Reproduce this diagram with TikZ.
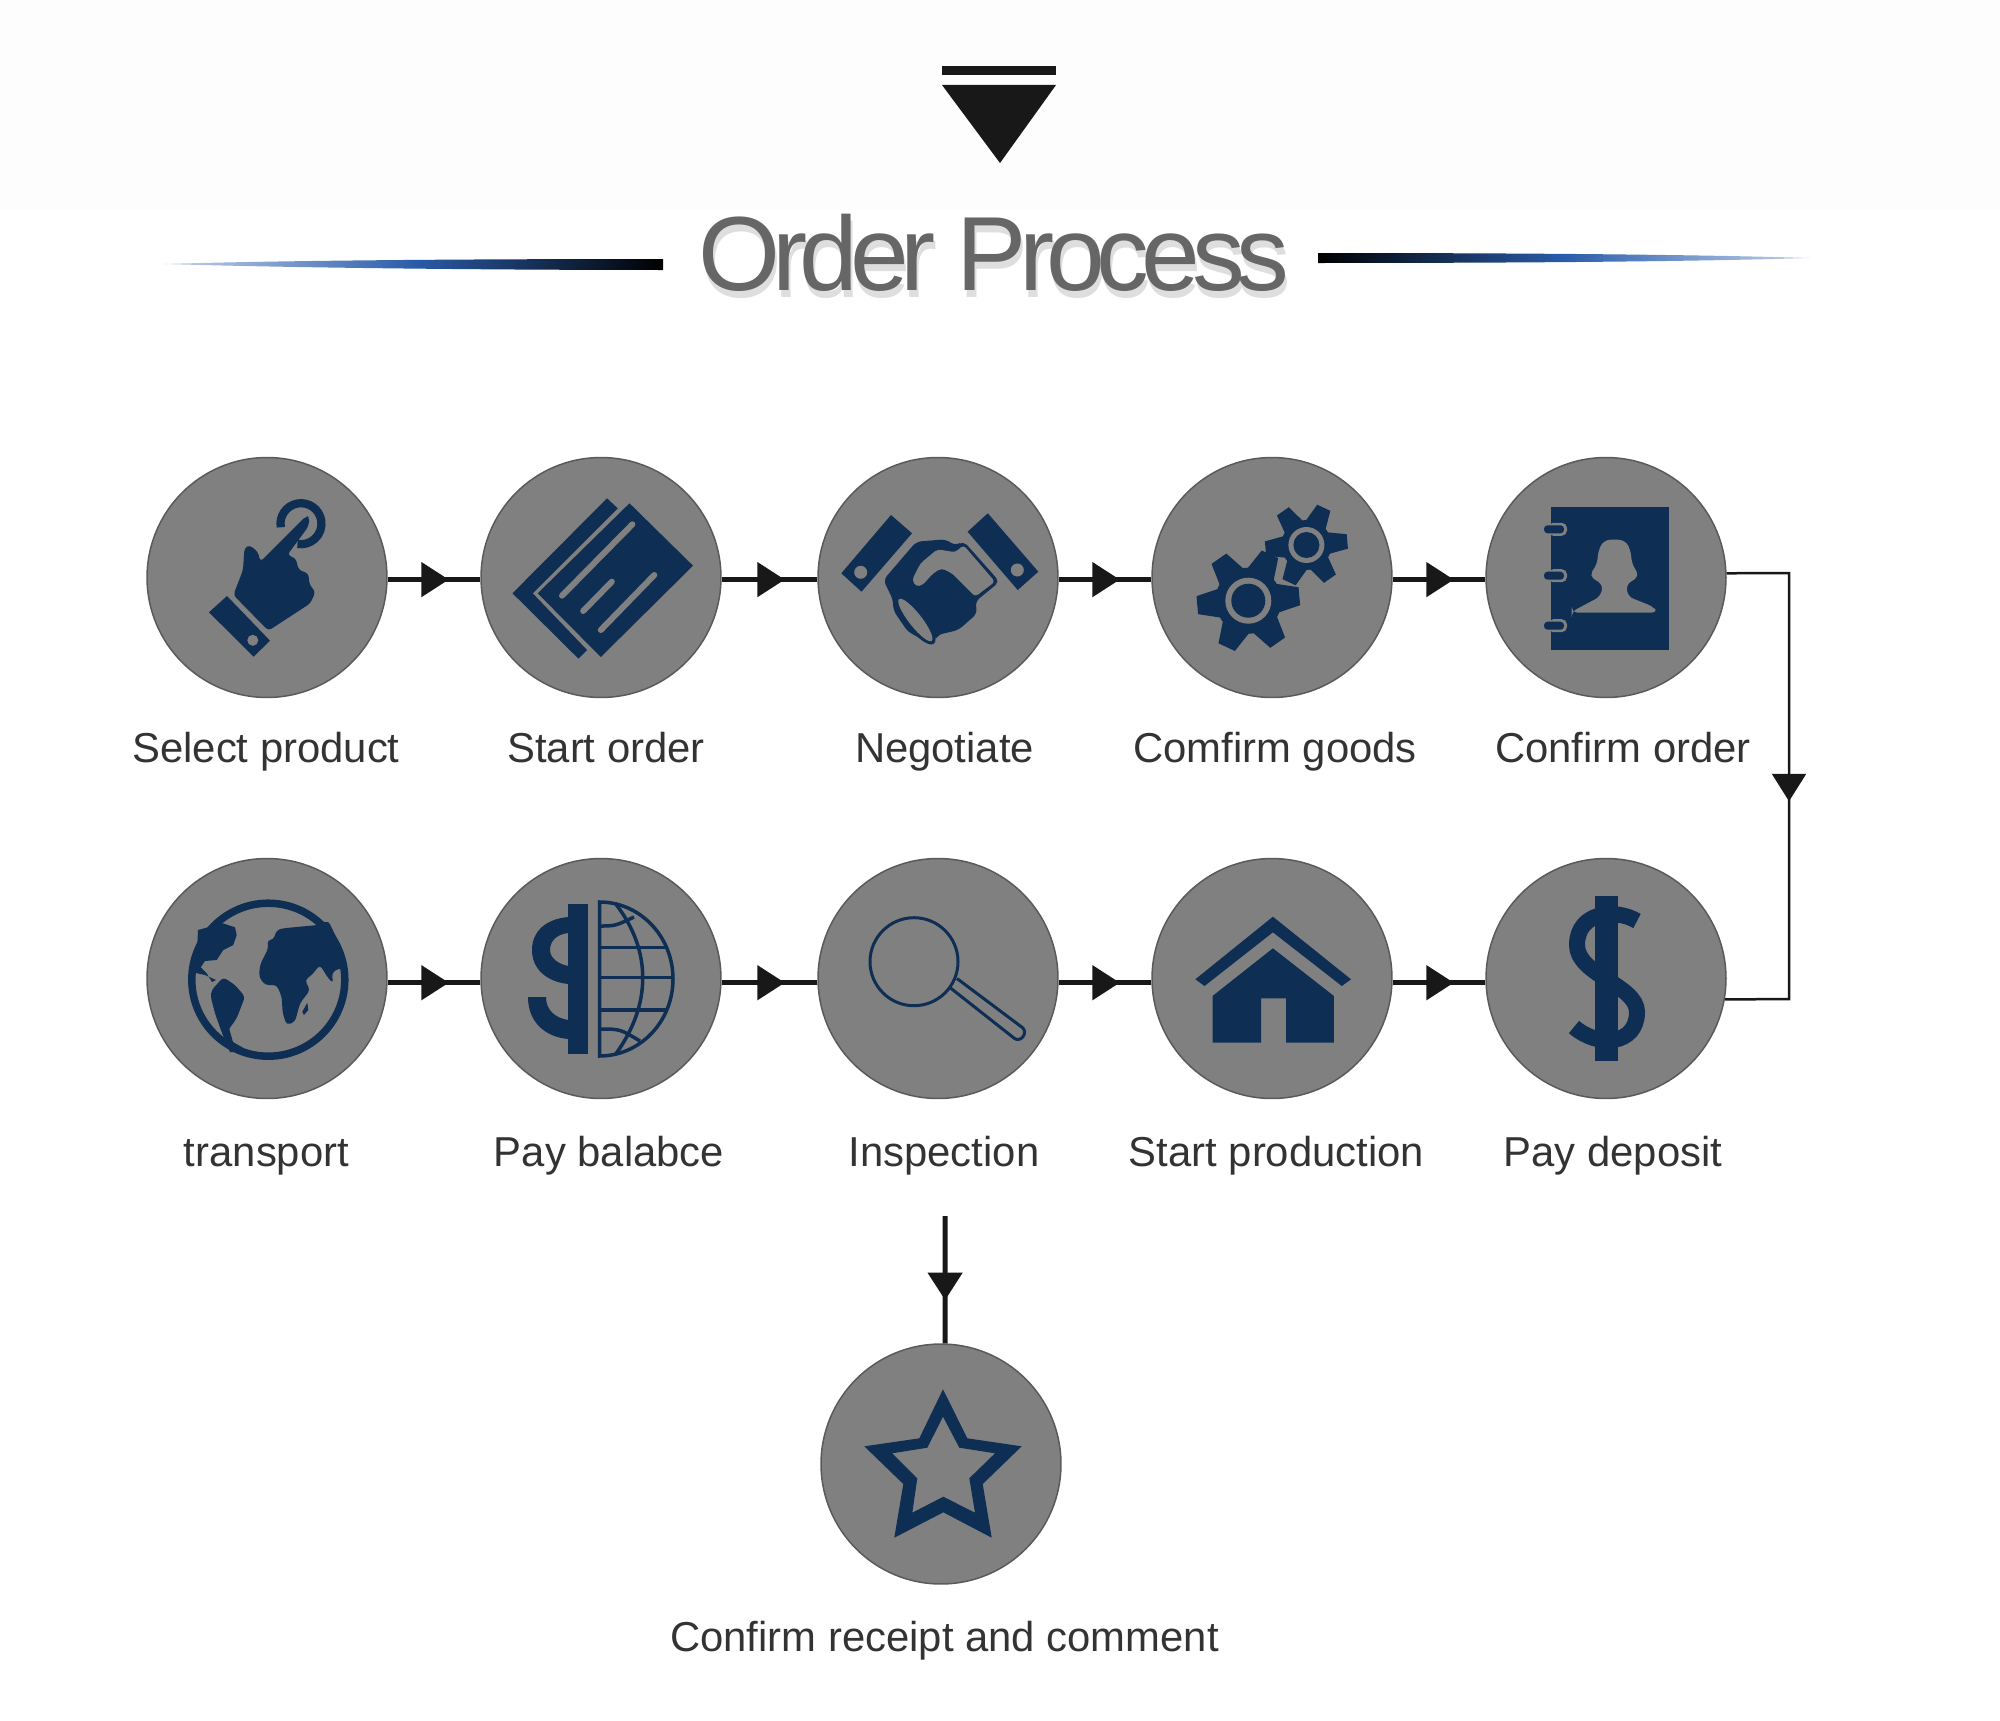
\documentclass[tikz,border=0pt]{standalone}
\usepackage{fontspec}
\setmainfont{Liberation Sans}
\usetikzlibrary{arrows.meta,decorations.markings}

\definecolor{iconblue}{HTML}{0E2E54}
\definecolor{discgray}{HTML}{808080}
\definecolor{rimgray}{HTML}{5A5A5A}
\definecolor{linedark}{HTML}{181818}
\definecolor{labelgray}{HTML}{333333}
\definecolor{titlegray}{HTML}{666666}
\definecolor{shadowgray}{HTML}{DEDEDE}
\definecolor{barblue}{HTML}{2A5CAA}
\definecolor{bartip}{HTML}{C4D4EC}
\definecolor{topbg}{HTML}{FDFDFD}

\tikzset{
  flowtip/.tip={Triangle[length=0.55cm,width=0.68cm]},
  stepdisc/.style={circle, minimum size=4.8cm, inner sep=0pt, fill=discgray, draw=rimgray, line width=0.03cm},
  steptxt/.style={font=\fontsize{23.8}{28}\selectfont, text=labelgray, inner sep=0pt, anchor=base},
  flowline/.style={linedark, line width=0.1cm, postaction={decorate},
    decoration={markings, mark=at position 0.66 with {\arrow[linedark]{flowtip}}}},
  backline/.style={linedark, line width=0.05cm, postaction={decorate},
    decoration={markings, mark=at position 0.526 with {\arrow[linedark]{flowtip}}}},
  iconfill/.style={fill=iconblue},
  iconcut/.style={fill=discgray},
  iconline/.style={draw=iconblue, line width=0.07cm},
  cutline/.style={draw=discgray, line width=0.12cm, line cap=round},
  titletxt/.style={anchor=base, inner sep=0pt, font=\fontsize{60}{64}\selectfont\addfontfeature{LetterSpace=-7.6}}
}

\newcommand{\gearwheel}[7]{
  \fill[iconfill] (#1,#2) circle (#4);
  \foreach \a in {0,60,...,300}{
    \fill[iconfill,shift={(#1,#2)}] (#7+\a-27:#4-1) -- (#7+\a-10:#3) -- (#7+\a+10:#3) -- (#7+\a+27:#4-1) -- cycle;
  }
  \fill[iconcut] (#1,#2) circle (#5);
  \fill[iconfill] (#1,#2) circle (#6);
}

\begin{document}
\begin{tikzpicture}[x=0.02cm, y=-0.02cm, >=Stealth, line join=miter]

\useasboundingbox (0,0) rectangle (2000,1720);
\fill[topbg] (0,0) rectangle (2000,210);

\fill[linedark] (942,66) rectangle (1056,75);
\fill[linedark] (942,85) -- (1056,85) -- (1000,163) -- cycle;

\node[titletxt, text=shadowgray] (titleback) at (996,297) {Order Process};
\node[titletxt, text=titlegray] (titletop) at (994,290) {Order Process};

\shade[left color=bartip, right color=black, middle color=barblue] (164,264) .. controls (300,260) and (500,259) .. (663,259) -- (663,270) .. controls (500,270) and (300,268) .. (164,264) -- cycle;
\shade[left color=black, right color=bartip, middle color=barblue] (1318,253) .. controls (1480,253) and (1680,254) .. (1810,258) .. controls (1680,262) and (1480,263) .. (1318,263) -- cycle;

\foreach \name/\x/\y/\tx/\ty/\txt in {
  sel/267/577.5/266/762/Select product,
  sta/601/577.5/606/762/Start order,
  neg/938/577.5/944.5/762/Negotiate,
  gds/1272/577.5/1275/762/Comfirm goods,
  ord/1606/577.5/1623/762/Confirm order,
  tra/267/978.5/266.5/1166/transport,
  bal/601/978.5/609/1166/Pay balabce,
  ins/938/978.5/944/1166/Inspection,
  pro/1272/978.5/1276.5/1166/Start production,
  dep/1606/978.5/1613/1166/Pay deposit,
  rec/941/1464/944.5/1651.5/Confirm receipt and comment}{
  \node[stepdisc] (\name) at (\x,\y) {};
  \node[steptxt] (\name txt) at (\tx,\ty) {\txt};
}

\foreach \a/\b in {sel/sta,sta/neg,neg/gds,gds/ord}{
  \draw[flowline] (\a.-1) -- (\b.181);
}
\foreach \a/\b in {tra/bal,bal/ins,ins/pro,pro/dep}{
  \draw[flowline] (\a.-2) -- (\b.182);
}
\coordinate (turnA) at (1789,573);
\coordinate (turnB) at (1789,999);
\draw[backline] (ord.2) -- (turnA) -- (turnB) -- (dep.-10);
\coordinate (dropstart) at (945,1216);
\draw[flowline] (dropstart) -- (rec.88);

\draw[draw=iconblue, line width=0.165cm] (301,523.7) ++(170:20.5) arc[start angle=170, end angle=460, radius=20.5];
\fill[iconfill, rounded corners=2] (233.4,595) -- (243,570) -- (244.4,548.3) -- (249.4,545) -- (257.8,551.7) -- (260.4,561.7) -- (306.2,516) -- (309.6,517.3) -- (308.3,526.7) -- (287.3,555) -- (295.7,558.3) -- (298.7,570) -- (308.3,573.3) -- (309.6,585) -- (315.5,591.7) -- (310.4,603.3) -- (268.4,630.7) -- cycle;
\fill[iconfill] (227,596) -- (270,640.7) -- (253.6,656.7) -- (209,612.3) -- cycle;
\fill[iconcut] (252.8,640.3) circle (5.5);

\fill[iconfill] (607,498.3) -- (617.7,508.3) -- (532.7,593.3) -- (587,650) -- (578.5,658.7) -- (512.5,593.3) -- cycle;
\fill[iconfill] (629.5,503.3) -- (693,565.7) -- (600.8,657) -- (537.7,593.3) -- cycle;
\draw[cutline] (632.4,524.3) -- (562,595.7);
\draw[cutline] (611.8,581.7) -- (583.2,611);
\draw[cutline] (654.3,575) -- (600.8,630);

\fill[iconfill] (891,515) -- (912,533.3) -- (861.5,591.7) -- (841.3,573.3) -- cycle;
\fill[iconcut] (860.7,572.3) circle (6.5);
\fill[iconfill] (987.8,513.3) -- (1038.3,571.7) -- (1017.7,590) -- (967.6,531.7) -- cycle;
\fill[iconcut] (1017.3,570) circle (6.5);
\fill[iconfill, rounded corners=3] (883.4,580) -- (916.3,541.7) -- (945.7,539.3) -- (955.4,545.7) -- (963.4,541) -- (999.6,581.7) -- (975.2,601.7) -- (977.3,613.3) -- (958.4,630) -- (937.3,635) -- (935.2,640) -- (926.8,641.7) -- (907.8,631.7) -- (893.1,610) -- (893.1,600) -- cycle;
\fill[iconcut, rounded corners=2] (955.4,552.3) -- (937.3,549.3) -- (920.5,563.3) -- (912,580) -- (916.3,586.7) -- (922.6,585) -- (933.1,573.3) -- (941.5,568.3) -- (952,573.3) -- (975.2,596.7) -- (995,581.7) -- (963.4,545) -- cycle;
\fill[iconfill, rotate around={-52:(915.4,620)}] (915.4,620) ellipse (30 and 10);
\fill[iconcut, rotate around={-52:(915.4,620)}] (915.4,620) ellipse (26.5 and 6.5);

\gearwheel{1306.4}{545}{41.7}{25}{18}{13}{-5}
\gearwheel{1248.3}{600.7}{52}{33}{23}{17}{-5}

\fill[iconfill] (1551,506.7) rectangle (1668.7,650);
\foreach \tabname/\taby in {tabA/529.3,tabB/575.7,tabC/625.7}{
  \fill[iconcut, rounded corners=3] (1548,\taby-6.5) rectangle (1567,\taby+6.5);
  \fill[iconfill, rounded corners=2] (1544,\taby-4) rectangle (1564,\taby+4);
}
\fill[iconcut, rounded corners=3] (1614.3,539) -- (1603,541) -- (1598,552) -- (1597.3,563.3) -- (1589.3,576) -- (1603.3,585) -- (1600,596.7) -- (1571.7,611.7) -- (1571.7,612.5) -- (1657.3,612.5) -- (1653.3,606.7) -- (1628.3,596.7) -- (1626,585) -- (1639.3,576) -- (1631.7,563.3) -- (1631,552) -- (1626,541) -- cycle;

\draw[draw=iconblue, line width=0.15cm] (268.3,979.7) circle (76.5);
\fill[iconfill] (198,930) -- (222.7,923.3) -- (235,927.3) -- (236.7,935) -- (233.3,945) -- (223.3,950) -- (216.7,960) -- (205,961) -- (200.7,967.3) -- (206.7,973.3) -- (212,982) -- (216,980) -- (205,975) -- (196,973) -- cycle;
\fill[iconfill, rounded corners=2] (211.7,990) -- (223.3,977.3) -- (235,985) -- (245,996.7) -- (236.7,1018.3) -- (228.3,1030) -- (226.7,1036.7) -- (222.7,1035) -- (215,1013.3) -- (210.7,996.7) -- cycle;
\fill[iconfill] (222,1033) -- (229,1028) -- (233,1042) -- (252,1053) -- (230,1052) -- cycle;
\fill[iconfill, rounded corners=2] (276.7,930) -- (283.3,928.3) -- (293.3,927.3) -- (318.3,925) -- (328.3,920.7) -- (340,945) -- (345,970) -- (338.3,968.3) -- (331.7,973.3) -- (333.3,983.3) -- (328.3,978.3) -- (320,965) -- (311.7,975) -- (305,980) -- (310,990) -- (300,1003.3) -- (295,1021.7) -- (286.7,1025) -- (282.7,1013.3) -- (281.7,996.7) -- (276.7,985) -- (265,985) -- (259,976.7) -- (260,965) -- (268.3,948.3) -- (267.3,940) -- (273.3,940) -- cycle;
\fill[iconfill] (307.3,1002.7) -- (308.3,1010) -- (304,1015) -- (302.3,1011.7) -- cycle;

\fill[iconfill] (568.4,904.3) rectangle (588.2,1054.3);
\fill[iconfill] (568.4,917) .. controls (545,919) and (532,932) .. (532,950) .. controls (532,970) and (548,982) .. (568.4,984) -- (568.4,966) .. controls (558,964) and (550,958) .. (550,950) .. controls (550,940) and (558,934) .. (568.4,933) -- cycle;
\fill[iconfill] (528,997) -- (546,997) .. controls (546,1010) and (555,1018) .. (568.4,1020) -- (568.4,1039) .. controls (545,1037) and (528,1022) .. (528,997) -- cycle;
\draw[iconline] (599.5,902) arc[start angle=-90, end angle=90, x radius=73.5, y radius=77] -- cycle;
\draw[iconline] (599.5,947.7) -- (665,947.7);
\draw[iconline] (599.5,977.3) -- (673,977.3);
\draw[iconline] (599.5,1010) -- (667,1010);
\draw[iconline] (615,903) .. controls (652,950) and (652,1005) .. (615,1055);
\draw[iconline] (599.5,926) .. controls (615,926) .. (634,917);
\draw[iconline] (599.5,1029) .. controls (620,1029) .. (640,1041);

\draw[draw=iconblue, line width=0.06cm] (914,961.7) circle (44);
\draw[draw=iconblue, line width=0.06cm, rounded corners=3.5] (957,978.5) -- (1027,1031) -- (1019,1042) -- (950.5,988);

\fill[iconfill] (1272.9,916.7) -- (1351,979.3) -- (1341.8,986) -- (1272.9,932.3) -- (1204.5,986) -- (1195.3,979.3) -- cycle;
\fill[iconfill] (1272.9,948.3) -- (1333.9,996) -- (1333.9,1042.7) -- (1286,1042.7) -- (1286,998.3) -- (1261,998.3) -- (1261,1042.7) -- (1212.5,1042.7) -- (1212.5,996) -- cycle;

\fill[iconfill] (1594.5,896) rectangle (1617.7,1060.7);
\draw[draw=iconblue, line width=0.32cm] (1637,921) .. controls (1615,908) and (1577,912) .. (1577,945) .. controls (1577,975) and (1637,985) .. (1637,1012) .. controls (1637,1045) and (1598,1048) .. (1574,1027);

\fill[iconfill, even odd rule] (943,1389.3) -- (967.3,1438.3) -- (1021.7,1446.3) -- (982.7,1484) -- (991.7,1537.7) -- (943.3,1512.3) -- (894.3,1537.7) -- (903.3,1484) -- (864.3,1446.3) -- (919.3,1438.3) -- cycle
  (943,1416.7) -- (959.3,1447.7) -- (995,1453.3) -- (969.3,1478.3) -- (975,1512.7) -- (943.3,1496.7) -- (912.3,1512.7) -- (917.3,1478.3) -- (892.3,1453.3) -- (927.3,1447.7) -- cycle;

\end{tikzpicture}
\end{document}
